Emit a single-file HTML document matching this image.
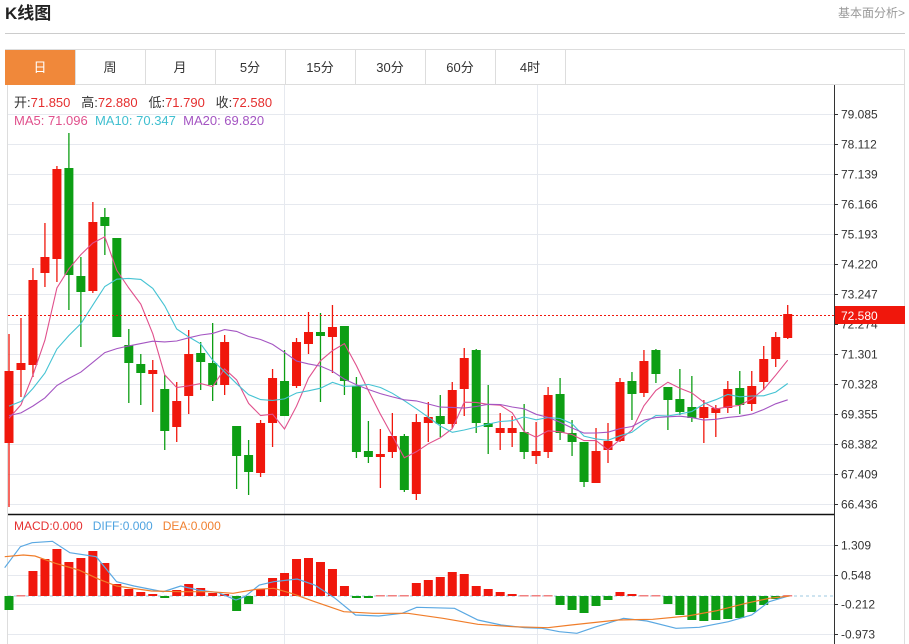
<!DOCTYPE html>
<html><head><meta charset="utf-8"><style>
html,body{margin:0;padding:0;background:#fff;width:909px;height:644px;overflow:hidden;font-family:"Liberation Sans","Noto Sans CJK SC",sans-serif;}
svg text{white-space:pre;}
</style></head><body>
<svg id="s" width="909" height="644" xmlns="http://www.w3.org/2000/svg" style="position:absolute;left:0;top:0;font-family:'Liberation Sans','Noto Sans CJK SC',sans-serif">
<text x="5" y="19" font-size="17" font-weight="bold" fill="#222">K线图</text>
<text x="905" y="17" font-size="12" fill="#999" text-anchor="end">基本面分析&gt;</text>
<line x1="5" y1="33.5" x2="905" y2="33.5" stroke="#ccc"/>
<rect x="5.5" y="49.5" width="899" height="35" fill="#fff" stroke="#ddd"/>
<rect x="5" y="50" width="70" height="35" fill="#f0883a"/>
<g id="tabs"></g>
<line x1="7.5" y1="85" x2="7.5" y2="644" stroke="#ddd"/>
<line x1="904.5" y1="85" x2="904.5" y2="644" stroke="#ddd"/>
<g id="g"></g>
</svg>
<script>
var NS="http://www.w3.org/2000/svg";
function el(t,a,p,txt){var e=document.createElementNS(NS,t);for(var k in a)e.setAttribute(k,a[k]);if(txt!==undefined)e.textContent=txt;(p||document.getElementById('g')).appendChild(e);return e;}
var tabs=["日","周","月","5分","15分","30分","60分","4时"];
var tg=document.getElementById('tabs');
for(var i=0;i<tabs.length;i++){var tx=40+70*i;
 if(i>0)el('line',{x1:5+70*i+.5,y1:50,x2:5+70*i+.5,y2:85,stroke:'#ddd'},tg);
 el('text',{x:tx,y:72,'font-size':13,'text-anchor':'middle',fill:i==0?'#fff':'#333'},tg,tabs[i]);}
el('line',{x1:565.5,y1:50,x2:565.5,y2:85,stroke:'#ddd'},tg);
for(var k=0;k<14;k++){var y=114+30*k;el('line',{x1:8,y1:y+.5,x2:834,y2:y+.5,stroke:'#e6e9ef'});}
[284,537].forEach(function(x){el('line',{x1:x+.5,y1:85,x2:x+.5,y2:644,stroke:'#e6e9ef'});});
[545,575,604,634].forEach(function(y){el('line',{x1:8,y1:y+.5,x2:834,y2:y+.5,stroke:'#e6e9ef'});});
el('line',{x1:834.5,y1:85,x2:834.5,y2:644,stroke:'#333'});
var labs=["79.085","78.112","77.139","76.166","75.193","74.220","73.247","72.274","71.301","70.328","69.355","68.382","67.409","66.436"];
labs.forEach(function(l,k){var y=114+30*k;el('line',{x1:834,y1:y+.5,x2:838,y2:y+.5,stroke:'#333'});el('text',{x:841,y:y+4.5,'font-size':12,fill:'#333'},null,l);});
[["1.309",545],["0.548",575],["-0.212",604],["-0.973",634]].forEach(function(a){el('line',{x1:834,y1:a[1]+.5,x2:838,y2:a[1]+.5,stroke:'#333'});el('text',{x:841,y:a[1]+4.5,'font-size':12,fill:'#333'},null,a[0]);});
el('line',{x1:8,y1:514.5,x2:834,y2:514.5,stroke:'#111','stroke-width':1.5});
var C=[[1,443,371,334,507],[1,370,363,318,397],[1,365,280,268,377],[1,273,257,223,287],[1,259,169,166,282],[0,168,275,133,310],[0,276,292,257,347],[1,291,222,202,293],[0,217,226,208,255],[0,238,337,238,337],
[0,345,363,329,403],[0,364,373,354,405],[1,374,370,360,412],[0,389,431,375,450],[1,427,401,382,442],[1,396,354,330,414],[0,353,362,342,390],[0,363,385,323,401],[1,385,342,335,395],[0,426,456,426,489],
[0,455,472,440,495],[1,473,423,420,477],[1,423,378,369,447],[0,381,416,350,416],[1,386,342,338,388],[1,344,332,312,354],[0,332,336,313,402],[1,337,327,305,373],[0,326,381,326,395],[0,386,452,377,458],
[0,451,457,421,463],[1,457,454,429,488],[1,452,436,413,458],[0,436,490,434,492],[1,494,422,414,500],[1,423,417,402,442],[0,416,424,395,437],[1,424,390,382,428],[1,389,358,348,416],[0,350,423,349,433],
[0,423,427,385,454],[1,433,428,413,450],[1,433,428,416,447],[0,432,452,404,459],[1,456,451,422,464],[1,452,395,387,458],[0,394,433,378,440],[0,433,442,420,456],[0,442,482,442,487],[1,483,451,428,483],
[1,450,441,423,463],[1,441,382,378,442],[0,381,394,372,420],[1,393,361,350,397],[0,350,374,349,383],[0,387,400,387,430],[0,399,412,369,415],[0,407,418,376,422],[1,418,407,400,443],[1,413,408,405,437],
[1,408,389,381,413],[0,388,405,371,414],[1,404,386,371,411],[1,382,359,346,390],[1,359,337,332,367],[1,338,314,305,339]];
var RED="#f0170c",GRN="#0d9e14";
function cx(i){return 9+i*11.98;}
var closes=[];
C.forEach(function(c,i){var x=cx(i),col=c[0]?RED:GRN;var top=Math.min(c[1],c[2]),bot=Math.max(c[1],c[2]);
 el('line',{x1:x,y1:c[3],x2:x,y2:c[4],stroke:col,'stroke-width':1.3});
 el('rect',{x:x-4.5,y:top,width:9,height:Math.max(bot-top,2),fill:col});closes.push(c[2]);});
function ma(n,pad){var arr=[];for(var i=0;i<closes.length;i++){var s=0;for(var j=i-n+1;j<=i;j++)s+=(j<0?pad:closes[j]);arr.push(s/n);}return arr;}
function pl(arr,col){var p=arr.map(function(y,i){return cx(i).toFixed(1)+","+y.toFixed(1);}).join(" ");el('polyline',{points:p,fill:'none',stroke:col,'stroke-width':1.1});}
pl(ma(5,430),"#e0508c");pl(ma(10,410),"#45c3d3");pl(ma(20,418),"#a455c2");
el('line',{x1:8,y1:315.5,x2:834,y2:315.5,stroke:RED,'stroke-dasharray':'2,2'});
el('rect',{x:835,y:306,width:70,height:18,fill:RED});
el('text',{x:841,y:320,'font-size':12,fill:'#fff'},null,"72.580");
var t=el('text',{x:14,y:107,'font-size':13,fill:'#333'});
[["开:","#333"],["71.850","#e52e2e"],["   高:","#333"],["72.880","#e52e2e"],["   低:","#333"],["71.790","#e52e2e"],["   收:","#333"],["72.580","#e52e2e"]].forEach(function(a){el('tspan',{fill:a[1]},t,a[0]);});
var t2=el('text',{x:14,y:125,'font-size':13});
[["MA5: 71.096","#e0508c"],["  MA10: 70.347","#3fbfd0"],["  MA20: 69.820","#a455c2"]].forEach(function(a){el('tspan',{fill:a[1]},t2,a[0]);});
var t3=el('text',{x:14,y:530,'font-size':12});
[["MACD:0.000","#e53030"],["   DIFF:0.000","#4ea3e0"],["   DEA:0.000","#f08030"]].forEach(function(a){el('tspan',{fill:a[1]},t3,a[0]);});
el('line',{x1:8,y1:596,x2:834,y2:596,stroke:'#9cc8e0','stroke-dasharray':'3,3'});
var M=[610,595,571,559,549,562,558,551,563,584,589,592,594,598,590,584,588,593,594,611,604,589,578,573,559,558,562,569,586,598,598,597,596,596,583,580,577,572,574,586,589,592,594,597,597,595,605,610,613,606,600,592,594,596,596,604,615,620,621,620,619,618,612,605,599,597];
M.forEach(function(y,i){var x=cx(i);var h=y-596;if(Math.abs(h)<1.5){el('rect',{x:x-4.5,y:595,width:9,height:1.5,fill:'#f08080'});return;}
 el('rect',{x:x-4.5,y:Math.min(y,596),width:9,height:Math.abs(h),fill:h<0?RED:GRN});});
function zl(pts,col){var p=[];for(var i=0;i<pts.length;i+=2)p.push((pts[i]/1.716).toFixed(1)+","+(pts[i+1]/3+510).toFixed(1));el('polyline',{points:p.join(" "),fill:'none',stroke:col,'stroke-width':1.2});}
zl([8,173,35,110,55,98,90,94,120,128,165,140,200,215,230,228,280,245,310,228,340,240,375,248,405,270,420,260,445,225,470,215,510,207,540,225,575,265,610,315,650,318,690,310,715,292,780,295,820,330,860,345,900,353,930,355,960,365,990,370,1020,352,1070,325,1110,333,1160,355,1200,352,1250,335,1290,315,1320,275,1355,257],"#5aa8e2");
zl([8,140,40,135,60,138,95,160,135,180,170,208,200,228,260,243,310,245,360,245,400,250,440,238,470,235,500,250,540,275,590,305,640,310,700,310,760,325,820,343,880,350,940,353,980,345,1060,330,1120,328,1180,318,1230,302,1280,280,1320,265,1355,258],"#f07d2a");
</script>
</body></html>
